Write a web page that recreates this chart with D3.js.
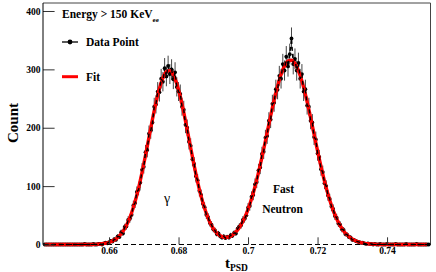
<!DOCTYPE html>
<html lang="en">
<head>
<meta charset="utf-8">
<title>tPSD distribution</title>
<script src="https://cdn.jsdelivr.net/npm/d3@7"></script>
<style>
  body { margin: 0; background: #fff; }
  svg text { font-family: "Liberation Serif", "DejaVu Serif", serif; }
</style>
</head>
<body>
<script>
// histogram binning (t_PSD)
var binStart = 0.6415, binWidth = 0.0005;
// counts per bin
var counts = [
  0,0,0,0,0,0,0,0,0,0,
  0,0,0,0,0,0,0,0,0,0,
  0,0,0,1,0,0,0,0,1,0,
  0,1,1,0,2,3,2,4,6,5,
  9,8,14,13,21,19,30,31,42,44,
  51,67,71,90,94,106,128,133,158,162,
  190,195,209,236,240,262,261,284,279,302,
  288,306,292,300,283,295,270,262,258,236,
  231,205,200,176,169,146,138,117,110,92,
  85,70,64,51,47,37,34,26,24,18,
  19,14,12,14,11,13,12,16,15,20,
  19,27,31,33,42,44,50,63,66,82,
  85,103,107,127,132,155,159,183,186,212,
  214,241,243,266,265,289,284,309,298,322,
  305,326,353,309,318,298,311,284,292,262,
  266,238,236,212,209,184,180,156,150,129,
  124,105,100,84,78,65,61,49,46,36,
  34,26,25,18,17,13,12,8,8,6,
  5,4,3,3,2,1,2,1,1,0,
  1,0,0,1,0,0,0,1,0,0,
  0,0,1,0,0,0,0,0,1,0,
  0,0,0,0,1,0,0,0,0,0,
  0,0
];
// fit curve, sampled every 0.001 from binStart
var fitStep = 0.001;
var fitValues = [
  0,0,0,0,0,0,0,0,0,0,0,0,0,0,0,
  0.5,0.9,1.7,2.8,4.7,7.6,12.0,18.3,27.1,38.9,
  54.3,73.6,96.7,123.5,152.9,183.8,214.6,243.1,267.4,285.5,
  295.8,297.6,290.6,275.5,253.5,226.4,196.3,165.2,135.0,107.0,
  82.4,62.0,45.3,32.4,23.2,17.0,13.4,12.1,13.1,16.2,
  21.5,29.2,39.4,52.6,68.9,88.3,110.8,136.0,163.2,191.7,
  220.1,247.1,271.3,291.3,306.0,314.3,315.7,310.1,297.9,279.9,
  257.2,231.1,203.1,174.5,146.7,120.6,96.9,76.2,58.6,44.1,
  32.4,23.3,16.4,11.3,7.6,5.0,3.2,2.0,1.2,0.8,0.4,
  0,0,0,0,0,0,0,0,0,0,0,0,0,0,0
];
var xMajor = [0.66, 0.68, 0.70, 0.72, 0.74];
var yMajor = [0, 100, 200, 300, 400];

var w = 436, h = 272;
var padL = 43, padR = 430.5, padT = 3, padB = 244.5;

var svg = d3.select("body").append("svg")
  .attr("width", w).attr("height", h);

var x = d3.scaleLinear().domain([0.641, 0.7525]).range([padL, padR]);
var y = d3.scaleLinear().domain([0, 413.7]).range([padB, padT]);

var data = counts.map(function(c, i) { return { t: binStart + binWidth * i, c: c }; });
var fit = fitValues.map(function(v, i) { return { t: binStart + fitStep * i, v: v }; });

// frame (top / right)
svg.append("path")
  .attr("d", "M" + padL + "," + padT + "H" + padR + "V" + padB)
  .attr("fill", "none").attr("stroke", "#444").attr("stroke-width", 1);

// error bars
svg.append("g").selectAll("line")
  .data(data.filter(function(d) { return d.c > 0; }))
  .enter().append("line")
  .attr("x1", function(d) { return x(d.t); })
  .attr("x2", function(d) { return x(d.t); })
  .attr("y1", function(d) { return y(d.c + Math.sqrt(d.c)); })
  .attr("y2", function(d) { return y(Math.max(0, d.c - Math.sqrt(d.c))); })
  .attr("stroke", "#444").attr("stroke-width", 1);

// markers
svg.append("g").selectAll("circle")
  .data(data).enter().append("circle")
  .attr("cx", function(d) { return x(d.t); })
  .attr("cy", function(d) { return y(d.c); })
  .attr("r", 1.9).attr("fill", "#000");

// fit
var fitLine = d3.line()
  .x(function(d) { return x(d.t); })
  .y(function(d) { return y(d.v); })
  .curve(d3.curveMonotoneX);
svg.append("path").datum(fit)
  .attr("d", fitLine)
  .attr("fill", "none").attr("stroke", "#f00").attr("stroke-width", 3.4);

// dashed data line
var dataLine = d3.line()
  .x(function(d) { return x(d.t); })
  .y(function(d) { return y(d.c); });
svg.append("path").datum(data)
  .attr("d", dataLine)
  .attr("fill", "none").attr("stroke", "#000").attr("stroke-width", 1.4)
  .attr("stroke-dasharray", "4,3");

// dashed zero line
svg.append("line")
  .attr("x1", padL).attr("x2", padR).attr("y1", y(0)).attr("y2", y(0))
  .attr("stroke", "#000").attr("stroke-width", 1.2).attr("stroke-dasharray", "5,3");

// axes
var xMinor = d3.range(0.644, 0.7525, 0.004);
var gx = svg.append("g").attr("transform", "translate(0," + padB + ")");
gx.call(d3.axisBottom(x).tickValues(xMinor).tickSize(-3.6).tickFormat(""));
gx.call(d3.axisBottom(x).tickValues(xMajor).tickSize(-7.2).tickPadding(2.5)
  .tickFormat(function(d) { return d3.format("")(+d.toFixed(2)); }));
gx.selectAll(".domain").remove();

var yMinor = d3.range(0, 413, 20);
var gy = svg.append("g").attr("transform", "translate(" + padL + ",0)");
gy.call(d3.axisLeft(y).tickValues(yMinor).tickSize(-5.8).tickFormat(""));
gy.call(d3.axisLeft(y).tickValues(yMajor).tickSize(-11.6).tickPadding(2.5));
gy.selectAll(".domain").remove();
gy.append("line").attr("x1", 0).attr("x2", 0).attr("y1", padT).attr("y2", padB)
  .attr("stroke", "#000").attr("stroke-width", 1);

svg.selectAll(".tick line").attr("stroke", "#333");
svg.selectAll(".tick text")
  .attr("font-family", "Liberation Serif").attr("font-weight", "bold")
  .attr("font-size", 9.5).attr("fill", "#000");

// axis titles
svg.append("text")
  .attr("transform", "translate(18,123) rotate(-90)")
  .attr("text-anchor", "middle").attr("font-weight", "bold").attr("font-size", 15)
  .text("Count");
var xt = svg.append("text").attr("x", 225).attr("y", 267.5)
  .attr("font-weight", "bold").attr("font-size", 15);
xt.append("tspan").text("t");
xt.append("tspan").attr("font-size", 9.5).attr("dy", 3.5).text("PSD");

// legend
var lg = svg.append("text").attr("x", 62).attr("y", 18.3)
  .attr("font-weight", "bold").attr("font-size", 11.5);
lg.append("tspan").text("Energy > 150 KeV");
lg.append("tspan").attr("font-size", 7).attr("dy", 3.5).text("ee");

svg.append("line").attr("x1", 62).attr("x2", 78).attr("y1", 42).attr("y2", 42)
  .attr("stroke", "#000").attr("stroke-width", 1.3);
svg.append("circle").attr("cx", 70).attr("cy", 42).attr("r", 2.4).attr("fill", "#000");
svg.append("text").attr("x", 86).attr("y", 46)
  .attr("font-weight", "bold").attr("font-size", 11.5).text("Data Point");

svg.append("line").attr("x1", 62).attr("x2", 78).attr("y1", 76.7).attr("y2", 76.7)
  .attr("stroke", "#f00").attr("stroke-width", 3);
svg.append("text").attr("x", 86).attr("y", 80.7)
  .attr("font-weight", "bold").attr("font-size", 11.5).text("Fit");

// peak labels
svg.append("text").attr("x", 167).attr("y", 203)
  .attr("text-anchor", "middle").attr("font-size", 14).text("γ");
svg.append("text").attr("x", 283.5).attr("y", 193)
  .attr("text-anchor", "middle").attr("font-weight", "bold").attr("font-size", 11.5).text("Fast");
svg.append("text").attr("x", 282.5).attr("y", 212.7)
  .attr("text-anchor", "middle").attr("font-weight", "bold").attr("font-size", 11.5).text("Neutron");
</script>
</body>
</html>
